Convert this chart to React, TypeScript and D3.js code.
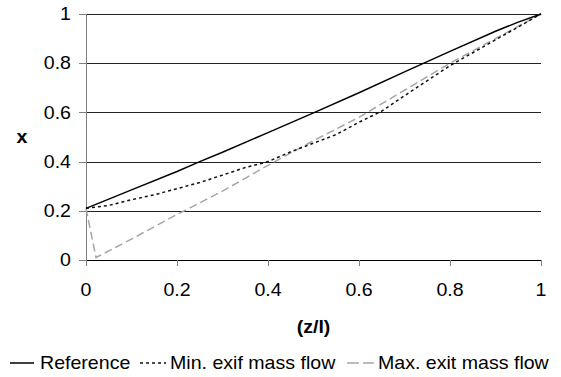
import React from "react";
import * as d3 from "d3";

const xTicks = [0, 0.2, 0.4, 0.6, 0.8, 1];
const yTicks = [0, 0.2, 0.4, 0.6, 0.8, 1];

const refX = [0, 0.1, 0.2, 0.25, 0.3, 0.4, 0.5, 0.6, 0.7, 0.8, 0.9, 0.95, 1];
const refY = [0.21, 0.285, 0.36, 0.4, 0.438, 0.518, 0.598, 0.68, 0.765, 0.848, 0.93, 0.967, 1];

const minX = [0, 0.05, 0.1, 0.15, 0.2, 0.25, 0.3, 0.35, 0.4, 0.45, 0.5, 0.55, 0.6, 0.65, 0.7, 0.8, 0.9, 1];
const minY = [0.21, 0.222, 0.245, 0.265, 0.29, 0.315, 0.345, 0.376, 0.4, 0.44, 0.475, 0.51, 0.56, 0.605, 0.668, 0.79, 0.895, 1];

const maxX = [0, 0.022, 0.1, 0.2, 0.3, 0.4, 0.5, 0.6, 0.7, 0.8, 0.9, 1];
const maxY = [0.21, 0.01, 0.085, 0.185, 0.28, 0.385, 0.485, 0.58, 0.69, 0.8, 0.9, 1];

const legendLabels = ["Reference", "Min. exif mass flow", "Max. exit mass flow"];

const FS = 17.8;
const SX = 1.1;

function T(props: { x: number; y: number; anchor?: string; bold?: boolean; children: React.ReactNode }) {
  return (
    <text
      transform={`translate(${props.x},${props.y}) scale(${SX},1)`}
      dy="0.35em"
      textAnchor={props.anchor || "start"}
      fontSize={FS}
      fontWeight={props.bold ? "bold" : "normal"}
    >
      {props.children}
    </text>
  );
}

export default function App() {
  const W = 561, H = 377;
  const x = d3.scaleLinear().domain([0, 1]).range([86, 541]);
  const y = d3.scaleLinear().domain([0, 1]).range([260, 14]);
  const line = (xs: number[], ys: number[]) =>
    d3.line<number>().x((_, i) => x(xs[i])).y((_, i) => y(ys[i]))(xs) || "";
  const font = "Arial, 'Liberation Sans', sans-serif";
  return (
    <svg width={W} height={H} style={{ position: "absolute", left: 0, top: 0, background: "#fff" }} fontFamily={font}>
      {yTicks.filter(t => t > 0).map(t => (
        <line key={"g" + t} x1={x(0)} x2={x(1)} y1={Math.round(y(t)) + 0.5} y2={Math.round(y(t)) + 0.5} stroke="#222" strokeWidth={1} />
      ))}
      <line x1={x(0) + 0.5} x2={x(0) + 0.5} y1={y(1)} y2={y(0)} stroke="#808080" strokeWidth={1} />
      {yTicks.map(t => (
        <line key={"yt" + t} x1={79} x2={x(0)} y1={Math.round(y(t)) + 0.5} y2={Math.round(y(t)) + 0.5} stroke="#808080" />
      ))}
      <line x1={x(0)} x2={x(1)} y1={Math.round(y(0)) + 0.5} y2={Math.round(y(0)) + 0.5} stroke="#000" strokeWidth={1} />
      {xTicks.map(t => (
        <line key={"xt" + t} x1={Math.round(x(t)) + 0.5} x2={Math.round(x(t)) + 0.5} y1={y(0)} y2={y(0) + 6} stroke="#808080" />
      ))}
      {yTicks.map(t => (
        <T key={"yl" + t} x={71} y={y(t)} anchor="end">{d3.format("~g")(t)}</T>
      ))}
      {xTicks.map(t => (
        <T key={"xl" + t} x={x(t)} y={290} anchor="middle">{d3.format("~g")(t)}</T>
      ))}
      <T x={(x(0) + x(1)) / 2} y={327} anchor="middle" bold>(z/l)</T>
      <T x={22} y={(y(0) + y(1)) / 2} anchor="middle" bold>x</T>

      <path d={line(maxX, maxY)} fill="none" stroke="#a6a6a6" strokeWidth={1.5} strokeDasharray="8,4" />
      <path d={line(minX, minY)} fill="none" stroke="#111" strokeWidth={1.5} strokeDasharray="3,3" />
      <path d={line(refX, refY)} fill="none" stroke="#000" strokeWidth={1.5} />

      <line x1={10} x2={34} y1={363} y2={363} stroke="#000" strokeWidth={1.5} />
      <T x={40} y={363}>{legendLabels[0]}</T>
      <line x1={140} x2={166} y1={363} y2={363} stroke="#111" strokeWidth={1.5} strokeDasharray="3,3" />
      <T x={170} y={363}>{legendLabels[1]}</T>
      <line x1={347} x2={374} y1={363} y2={363} stroke="#a6a6a6" strokeWidth={1.5} strokeDasharray="12,4" />
      <T x={378} y={363}>{legendLabels[2]}</T>
    </svg>
  );
}
